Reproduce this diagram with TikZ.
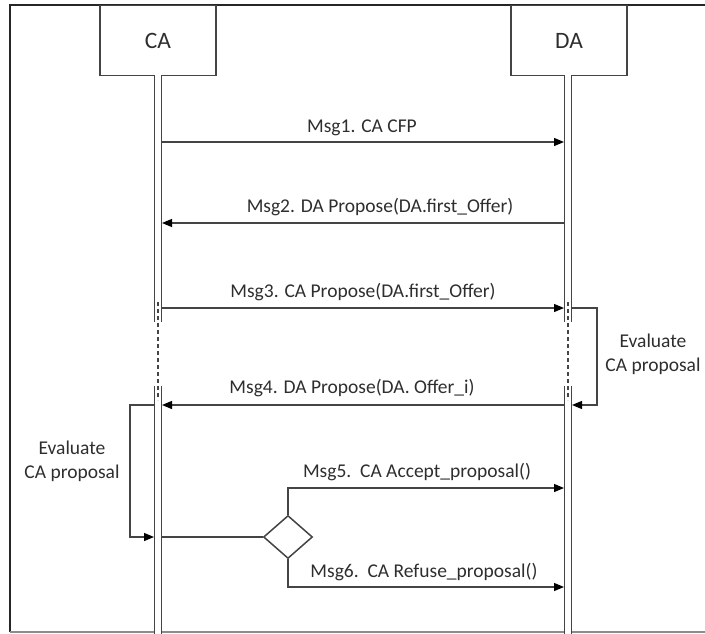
\documentclass[tikz,border=0pt]{standalone}
\usepackage{fontspec}
\setmainfont{Carlito}
\usetikzlibrary{arrows.meta,shapes.geometric}
\definecolor{ln}{HTML}{444444}
\definecolor{tx}{HTML}{2E2E2E}
\begin{document}
\begin{tikzpicture}[x=1pt,y=-1pt,
  agent/.style={draw=ln,line width=1.4pt,minimum width=116pt,minimum height=70pt,
    inner sep=0pt,text=tx,font=\fontsize{23.5}{27}\selectfont},
  life/.style={draw=ln,line width=1.6pt,double=white,double distance=5.2pt},
  lifegap/.style={draw=ln,line width=1.5pt,dash pattern=on 4pt off 3pt},
  msg/.style={draw=ln,line width=1.2pt,-{Triangle[length=10pt,width=8pt,fill=black,color=black]}},
  wire/.style={draw=ln,line width=1.2pt},
  lbl/.style={text=tx,font=\fontsize{19.5}{23}\selectfont,inner sep=0pt},
  note/.style={lbl,align=center,font=\fontsize{19.5}{24}\selectfont},
  choice/.style={draw=ln,line width=1.5pt,diamond,minimum width=49pt,minimum height=43pt,inner sep=0pt,fill=white}]
\useasboundingbox (0,0) rectangle (705,634);
% outer frame (right side runs off the page)
\draw[line width=1.8pt,black!85] (705,5) -- (10,5) -- (10,632);
\draw[line width=1.3pt,black!45] (10,632) -- (705,632);

% agents
\node[agent] (ca) at (158,40.5) {CA};
\node[agent] (da) at (569,40.5) {DA};

% lifelines with a break
\draw[life] (158,75.5) -- (158,322);
\draw[life] (158,386) -- (158,640);
\draw[lifegap] (158,302) -- (158,400);
\draw[life] (568,75.5) -- (568,322);
\draw[life] (568,386) -- (568,640);
\draw[lifegap] (568,302) -- (568,400);

% anchor points on the lifelines
\coordinate (caR1) at (162,142); \coordinate (daL1) at (564,142);
\coordinate (caR2) at (162,223); \coordinate (daL2) at (564,223);
\coordinate (caR3) at (162,308); \coordinate (daL3) at (564,308);
\coordinate (daR3) at (572,308);
\coordinate (caR4) at (162,405); \coordinate (daL4) at (564,405);
\coordinate (daR4) at (572,405);
\coordinate (caL4) at (154,405); \coordinate (caL6) at (154,537);
\coordinate (caR6) at (162,537);
\coordinate (daL5) at (564,488); \coordinate (daL6) at (564,587);

% messages
\draw[msg] (caR1) -- (daL1);
\node[lbl] (m1) at (362,128) {Msg1. CA CFP};
\draw[msg] (daL2) -- (caR2);
\node[lbl] (m2) at (380,207) {Msg2. DA Propose(DA.first\_Offer)};
\draw[msg] (caR3) -- (daL3);
\node[lbl] (m3) at (363,292) {Msg3. CA Propose(DA.first\_Offer)};
\draw[msg] (daL4) -- (caR4);
\node[lbl] (m4) at (352,388) {Msg4. DA Propose(DA. Offer\_i)};

% DA evaluation loop
\draw[msg] (daR3) -- (597,308) -- (597,405) -- (daR4);
\node[note] (evda) at (653,354) {Evaluate\\CA proposal};

% CA evaluation loop
\draw[msg] (caL4) -- (130,405) -- (130,537) -- (caL6);
\node[note] (evca) at (72,461) {Evaluate\\CA proposal};

% decision
\node[choice] (dec) at (288,537) {};
\draw[wire] (caR6) -- (dec.west);
\draw[msg] (dec.north) |- (daL5);
\draw[msg] (dec.south) |- (daL6);
\node[lbl] (m5) at (417,472) {Msg5.\ \ CA Accept\_proposal()};
\node[lbl] (m6) at (424,572) {Msg6.\ \ CA Refuse\_proposal()};
\end{tikzpicture}
\end{document}
